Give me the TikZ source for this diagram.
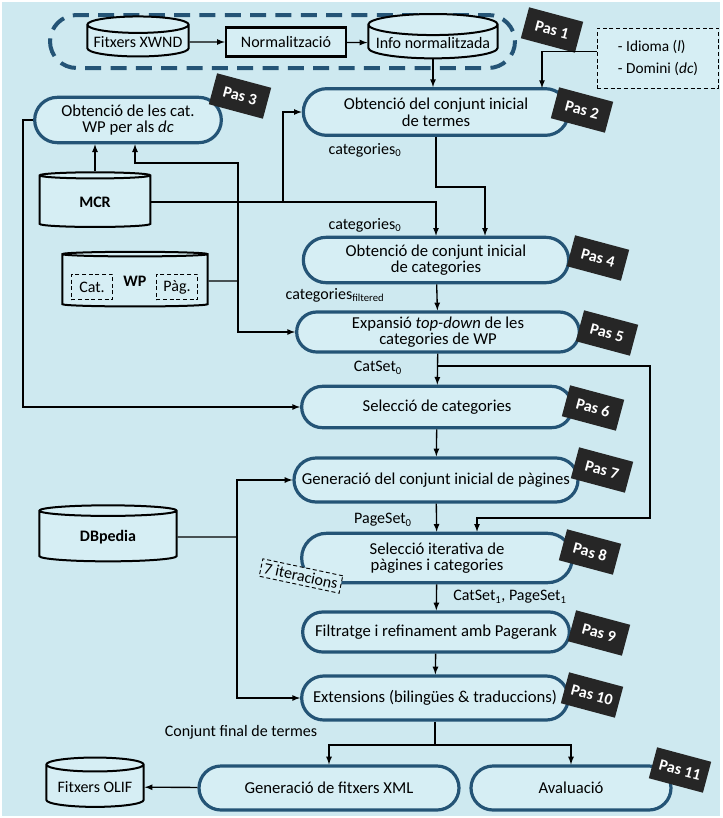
\documentclass[tikz,border=0pt]{standalone}
\usepackage{fontspec}
\setmainfont{Carlito}
\usetikzlibrary{arrows}
\usetikzlibrary{shapes.geometric,shapes.misc}

\definecolor{bgblue}{RGB}{206,233,240}
\definecolor{boxfill}{RGB}{214,238,244}
\definecolor{boxline}{RGB}{36,84,118}
\definecolor{tagdark}{RGB}{38,38,38}

\tikzset{
  stepbox/.style={rounded rectangle, draw=boxline, line width=2.4pt, fill=boxfill, align=center, inner sep=1pt, font=\fontsize{12.5}{12.5}\selectfont},
  dbase/.style={cylinder, shape border rotate=90, aspect=0.18, draw=black, line width=1.5pt, fill=boxfill, font=\fontsize{12}{13}\selectfont, inner sep=1pt},
  pastag/.style={fill=tagdark, text=white, font=\bfseries\fontsize{12}{13}\selectfont, minimum width=42pt, minimum height=24pt, rotate=-15, inner sep=1pt},
  flowlabel/.style={font=\fontsize{12}{13}\selectfont, inner sep=1pt},
  link/.style={line width=1pt, -latex}
}

\begin{document}
\begin{tikzpicture}[x=0.75pt,y=0.75pt,yscale=-1,xscale=1]
\useasboundingbox (0,0) rectangle (722,818);
%Background
\fill[bgblue] (2,2) rectangle (720,816);

%Shape: dashed frame of step 1
\draw[boxline, line width=3pt, dash pattern=on 12pt off 7pt, rounded corners=20pt] (50,15) rectangle (515,68);

% Step 1 inputs
\node[dbase, minimum width=76pt, minimum height=30pt] (xwnd) at (138,42) {Fitxers XWND};
\node[draw, line width=1.8pt, fill=boxfill, minimum width=90pt, minimum height=22pt, font=\fontsize{12}{13}\selectfont] (norm) at (286,42) {Normalització};
\node[dbase, minimum width=97pt, minimum height=32pt] (info) at (433,43) {Info normalitzada};
\node[draw, densely dashed, line width=0.6pt, fill=boxfill, align=left, minimum width=91pt, minimum height=45pt, font=\fontsize{11.5}{16}\selectfont] (param) at (658,58) {- Idioma (\textit{l})\\- Domini (\textit{dc})};

% Steps
\node[stepbox, minimum width=201pt, minimum height=35pt] (pas2) at (436,112) {Obtenció del conjunt inicial\\de termes};
\node[stepbox, minimum width=142pt, minimum height=34pt] (pas3) at (128,120) {Obtenció de les cat.\\WP per als \textit{dc}};
\node[stepbox, minimum width=201pt, minimum height=34pt] (pas4) at (436,260) {Obtenció de conjunt inicial\\de categories};
\node[stepbox, minimum width=214pt, minimum height=30pt] (pas5) at (438,332) {Expansió \textit{top-down} de les\\categories de WP};
\node[stepbox, minimum width=205pt, minimum height=31pt] (pas6) at (437,407) {Selecció de categories};
\node[stepbox, minimum width=215pt, minimum height=33pt] (pas7) at (436,480) {Generació del conjunt inicial de pàgines};
\node[stepbox, minimum width=205pt, minimum height=37pt] (pas8) at (437,558) {Selecció iterativa de\\pàgines i categories};
\node[stepbox, minimum width=202pt, minimum height=30pt] (pas9) at (436,632) {Filtratge i refinament amb Pagerank};
\node[stepbox, minimum width=202pt, minimum height=33pt] (pas10) at (435,698) {Extensions (bilingües \& traduccions)};
\node[stepbox, minimum width=197pt, minimum height=33pt] (gen) at (329,788) {Generació de fitxers XML};
\node[stepbox, minimum width=152pt, minimum height=33pt] (aval) at (571,788) {Avaluació};

% Resources
\node[dbase, minimum width=83pt, minimum height=41pt] (mcr) at (95,202) {\textbf{MCR}};
\node[dbase, minimum width=109pt, minimum height=41pt] (wp) at (135,281) {\textbf{WP}};
\node[draw, densely dashed, line width=0.6pt, minimum width=31pt, minimum height=19pt, font=\fontsize{12}{13}\selectfont, inner sep=1pt] (wpcat) at (92,287) {Cat.};
\node[draw, densely dashed, line width=0.6pt, minimum width=31pt, minimum height=19pt, font=\fontsize{12}{13}\selectfont, inner sep=1pt] (wppag) at (177,287) {Pàg.};
\node[dbase, minimum width=103pt, minimum height=42pt] (dbp) at (108,537) {\textbf{DBpedia}};
\node[dbase, minimum width=73pt, minimum height=37pt] (olif) at (95,787) {Fitxers OLIF};

% Tags
\node[pastag] (tag1) at (552,30) {Pas 1};
\node[pastag] (tag2) at (582,110) {Pas 2};
\node[pastag] (tag3) at (240,96) {Pas 3};
\node[pastag] (tag4) at (598,258) {Pas 4};
\node[pastag] (tag5) at (607,333) {Pas 5};
\node[pastag] (tag6) at (593,408) {Pas 6};
\node[pastag] (tag7) at (602,470) {Pas 7};
\node[pastag] (tag8) at (590,552) {Pas 8};
\node[pastag] (tag9) at (599,633) {Pas 9};
\node[pastag] (tag10) at (592,695) {Pas 10};
\node[pastag] (tag11) at (680,770) {Pas 11};

\node[draw, densely dashed, line width=0.7pt, fill=boxfill, rotate=-12, font=\fontsize{12}{13}\selectfont, inner sep=2.5pt] (iter) at (301,576) {7 iteracions};

% Text Node
\node[flowlabel] (lcat0a) at (365,150) {categories\textsubscript{0}};
\node[flowlabel] (lcat0b) at (365,225) {categories\textsubscript{0}};
\node[flowlabel] (lcatf) at (335,295) {categories\textsubscript{filtered}};
\node[flowlabel] (lcs0) at (378,368) {CatSet\textsubscript{0}};
\node[flowlabel] (lps0) at (383,520) {PageSet\textsubscript{0}};
\node[flowlabel] (lcs1) at (510,597) {CatSet\textsubscript{1}, PageSet\textsubscript{1}};
\node[flowlabel] (lfinal) at (241,732) {Conjunt final de termes};

% Junctions
\coordinate (wpj) at (238,281);
\coordinate (p3b) at (135,163);
\coordinate (mcrj) at (283,202);
\coordinate (c2) at (485,187);
\coordinate (cs) at (437,366);
\coordinate (cr) at (650,518);
\coordinate (cl) at (477,518);
\coordinate (dbj) at (237,537);
\coordinate (fj) at (435,745);
\coordinate (p3l) at (23,120);

%Connectors
\draw[link] (xwnd) -- (norm);
\draw[link] (norm) -- (info);
\draw[link] (info.south) -- (info.south |- pas2.north);
\draw[link] ([yshift=-5pt]param.west) -| (542,88);
\draw[link] (mcr.north) -- (mcr.north |- pas3.south);
\draw[line width=1pt] (wp.east) -- (wpj);
\draw[link] (wpj) |- (p3b) -- (p3b |- pas3.south);
\draw[link] (wpj) |- (pas5.west);
\draw[link] (mcr.east) -| (pas4.north);
\draw[link] (mcrj) |- (pas2.west);
\draw[link] (pas2.south) |- (c2) -- (c2 |- pas4.north);
\draw[link] (pas4) -- (pas5);
\draw[link] (pas5) -- (pas6);
\draw[link] (pas6) -- (pas7);
\draw[link] (pas7) -- (pas8);
\draw[link] (pas8) -- (pas9);
\draw[link] (pas9) -- (pas10);
\draw[link] (cs) -| (cr) -- (cl) -- (cl |- pas8.north);
\draw[link] (pas3.west) -- (p3l) |- (pas6.west);
\draw[line width=1pt] (dbp.east) -- (dbj);
\draw[link] (dbj) |- (pas7.west);
\draw[link] (dbj) |- (pas10.west);
\draw[line width=1pt] (pas10.south) -- (fj);
\draw[link] (fj) -| (gen.north);
\draw[link] (fj) -| (aval.north);
\draw[link] (gen) -- (olif);

\end{tikzpicture}
\end{document}
